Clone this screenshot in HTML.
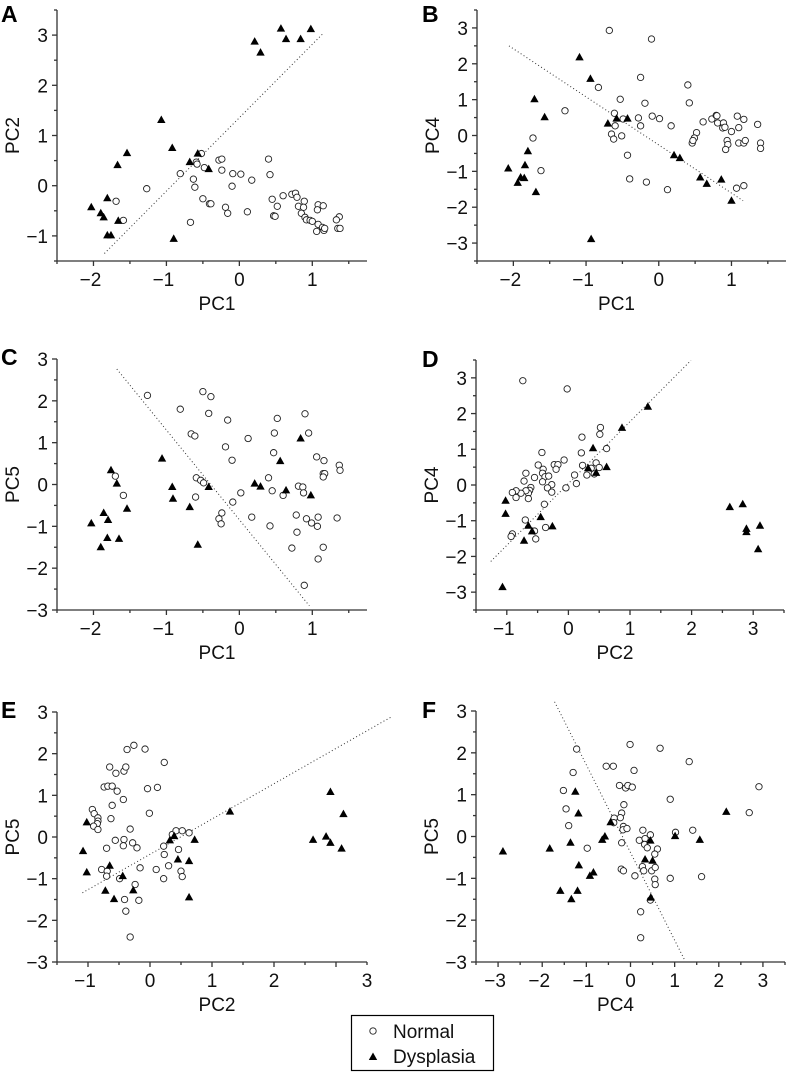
<!DOCTYPE html>
<html><head><meta charset="utf-8"><style>
html,body{margin:0;padding:0;background:#fff;}
svg{display:block;font-family:"Liberation Sans",Arial,sans-serif;}
</style></head><body>
<svg id="fig" width="790" height="1074" viewBox="0 0 790 1074"></svg>
<script>
// ---- Data ----
const aNormal=[[-0.52,0.64],[-0.59,0.47],[-0.58,0.43],[-0.48,0.36],[-0.81,0.24],[-0.63,0.13],[-0.61,-0.03],[-1.27,-0.06],[-1.69,-0.31],[-1.59,-0.69],[-0.67,-0.73],[-0.50,-0.26],[-0.41,-0.36],[-0.39,-0.36],[-0.28,0.51],[-0.24,0.53],[-0.24,0.31],[-0.09,0.24],[0.02,0.23],[-0.10,-0.01],[-0.19,-0.43],[-0.16,-0.55],[0.17,0.11],[0.11,-0.52],[0.40,0.53],[0.42,0.22],[0.45,-0.27],[0.52,-0.41],[0.47,-0.60],[0.49,-0.61],[0.60,-0.20],[0.72,-0.17],[0.77,-0.15],[0.79,-0.23],[0.81,-0.41],[0.89,-0.31],[0.88,-0.43],[0.85,-0.55],[0.90,-0.63],[0.92,-0.68],[0.97,-0.69],[1.00,-0.71],[1.08,-0.38],[1.07,-0.48],[1.15,-0.40],[1.08,-0.77],[1.06,-0.91],[1.14,-0.83],[1.16,-0.89],[1.17,-0.85],[1.37,-0.62],[1.33,-0.68],[1.35,-0.85],[1.38,-0.85]];
const aDysplasia=[[0.57,3.13],[0.98,3.12],[0.64,2.92],[0.84,2.92],[0.21,2.87],[0.29,2.65],[-1.07,1.31],[-0.92,0.75],[-1.54,0.65],[-0.57,0.64],[-1.67,0.41],[-0.68,0.47],[-0.42,0.33],[-2.03,-0.43],[-1.81,-0.25],[-1.90,-0.55],[-1.86,-0.63],[-1.66,-0.70],[-1.81,-0.99],[-1.76,-0.99],[-0.90,-1.06]];
const aLine=[[-1.85,-1.35],[1.16,3.05]];

const bNormal=[[-0.68,2.93],[-0.10,2.69],[-0.25,1.62],[-0.83,1.34],[-0.53,1.01],[-0.19,0.90],[-1.29,0.69],[-0.61,0.62],[-0.60,0.27],[-0.49,0.46],[-0.28,0.49],[-0.09,0.54],[0.01,0.47],[-0.25,0.27],[0.17,0.27],[-0.65,0.04],[-0.62,-0.10],[-0.51,-0.01],[-1.73,-0.07],[-1.62,-0.98],[-0.43,-0.55],[-0.40,-1.21],[-0.17,-1.30],[0.12,-1.51],[0.40,1.41],[0.42,0.91],[0.52,0.08],[0.49,-0.07],[0.46,-0.21],[0.47,-0.14],[0.61,0.38],[0.73,0.46],[0.79,0.56],[0.80,0.55],[0.81,0.35],[0.89,0.35],[0.88,0.21],[0.91,0.23],[1.00,0.11],[0.94,-0.14],[0.95,-0.25],[0.92,-0.39],[1.08,0.54],[1.10,0.22],[1.10,-0.21],[1.17,0.45],[1.17,-0.21],[1.19,-0.14],[1.36,0.31],[1.40,-0.21],[1.40,-0.36],[1.07,-1.47],[1.17,-1.40]];
const bDysplasia=[[-1.09,2.18],[-0.94,1.58],[-1.71,1.01],[-1.57,0.51],[-0.70,0.33],[-0.58,0.47],[-0.43,0.47],[-2.07,-0.92],[-1.80,-0.44],[-1.84,-0.83],[-1.90,-1.17],[-1.85,-1.19],[-1.94,-1.32],[-1.69,-1.58],[-0.93,-2.89],[0.21,-0.55],[0.29,-0.63],[0.57,-1.17],[0.66,-1.35],[0.86,-1.23],[1.00,-1.82]];
const bLine=[[-2.06,2.50],[1.16,-1.82]];

const cNormal=[[-1.70,0.20],[-1.59,-0.26],[-1.26,2.13],[-0.81,1.80],[-0.66,1.21],[-0.61,1.16],[-0.50,2.22],[-0.39,2.10],[-0.42,1.70],[-0.16,1.54],[-0.19,0.90],[-0.10,0.58],[-0.59,0.16],[-0.53,0.10],[-0.49,0.04],[-0.60,-0.30],[-0.09,-0.42],[-0.24,-0.68],[-0.28,-0.82],[-0.25,-0.94],[0.02,-0.20],[0.12,1.10],[0.17,-0.78],[0.52,1.58],[0.48,1.23],[0.47,0.76],[0.40,0.16],[0.45,-0.15],[0.60,-0.26],[0.42,-0.99],[0.90,1.69],[0.95,1.23],[0.81,-0.04],[0.87,-0.06],[0.88,-0.20],[0.78,-0.73],[0.92,-0.82],[0.99,-0.92],[0.79,-1.14],[0.72,-1.52],[0.89,-2.41],[1.06,0.66],[1.16,0.57],[1.15,0.26],[1.17,0.26],[1.15,0.18],[1.08,-0.78],[1.07,-1.00],[1.15,-1.50],[1.08,-1.78],[1.37,0.46],[1.38,0.34],[1.34,-0.80]];
const cDysplasia=[[-1.76,0.34],[-1.68,0.02],[-2.03,-0.93],[-1.86,-0.68],[-1.80,-0.85],[-1.81,-1.28],[-1.90,-1.50],[-1.65,-1.30],[-1.54,-0.58],[-1.06,0.62],[-0.92,-0.06],[-0.91,-0.34],[-0.68,-0.54],[-0.57,-1.44],[-0.42,-0.06],[0.21,0.02],[0.29,-0.05],[0.56,0.56],[0.64,-0.14],[0.84,1.10],[0.98,-0.26]];
const cLine=[[-1.68,2.76],[0.96,-2.90]];

const dNormal=[[-0.74,2.92],[-0.02,2.69],[0.52,1.61],[0.51,1.42],[0.22,1.34],[0.62,1.02],[0.21,0.90],[-0.43,0.91],[-0.07,0.70],[-0.49,0.56],[-0.41,0.44],[-0.23,0.57],[-0.17,0.57],[-0.20,0.44],[-0.42,0.33],[-0.38,0.23],[-0.32,0.25],[-0.55,0.21],[-0.69,0.33],[-0.72,0.11],[-0.42,0.09],[-0.27,0.01],[-0.34,-0.08],[-0.27,-0.20],[-0.61,-0.07],[-0.63,-0.15],[-0.65,-0.23],[-0.69,-0.16],[-0.77,-0.23],[-0.85,-0.16],[-0.91,-0.21],[-0.85,-0.35],[-0.65,-0.38],[-0.39,-0.54],[-0.04,-0.08],[0.13,0.04],[0.10,0.28],[0.23,0.55],[0.30,0.28],[0.37,0.47],[0.45,0.62],[0.42,0.31],[0.50,0.49],[-0.70,-0.98],[-0.91,-1.37],[-0.93,-1.44],[-0.55,-1.29],[-0.53,-1.51],[-0.37,-1.19]];
const dDysplasia=[[-1.07,-2.86],[-1.02,-0.44],[-1.02,-0.81],[-0.72,-1.56],[-0.65,-1.14],[-0.59,-1.30],[-0.45,-0.90],[-0.26,-1.16],[0.32,0.47],[0.40,1.03],[0.45,0.34],[0.62,0.50],[0.87,1.60],[1.29,2.19],[2.62,-0.62],[2.83,-0.54],[2.89,-1.23],[2.89,-1.32],[3.11,-1.14],[3.08,-1.80]];
const dLine=[[-1.26,-2.14],[1.99,3.49]];

const eNormal=[[-0.93,0.66],[-0.90,0.56],[-0.84,0.46],[-0.84,0.38],[-0.85,0.32],[-0.91,0.26],[-0.84,0.18],[-0.74,1.20],[-0.68,1.22],[-0.61,1.22],[-0.53,1.10],[-0.65,1.68],[-0.55,1.53],[-0.42,1.58],[-0.39,1.68],[-0.37,2.10],[-0.26,2.20],[-0.08,2.11],[0.23,1.79],[-0.04,1.16],[0.12,1.19],[-0.43,0.90],[-0.61,0.76],[-0.63,0.44],[-0.01,0.57],[-0.32,0.19],[-0.56,-0.08],[-0.42,-0.06],[-0.43,-0.21],[-0.28,-0.14],[-0.21,-0.26],[-0.70,-0.27],[-0.78,-0.78],[-0.69,-0.82],[-0.70,-0.94],[-0.49,-1.00],[-0.16,-0.74],[-0.24,-1.14],[-0.41,-1.50],[-0.18,-1.52],[-0.39,-1.78],[-0.32,-2.40],[0.10,-0.78],[0.22,-1.00],[0.30,-0.69],[0.22,-0.22],[0.23,-0.42],[0.36,0.06],[0.42,0.15],[0.52,0.15],[0.63,0.10],[0.46,-0.30],[0.50,-0.82],[0.52,-0.95]];
const eDysplasia=[[-1.02,0.35],[-1.08,-0.34],[-1.02,-0.85],[-0.65,-0.69],[-0.72,-1.29],[-0.58,-1.49],[-0.44,-0.94],[-0.27,-1.28],[0.32,-0.08],[0.39,0.02],[0.45,-0.54],[0.63,-0.58],[0.63,-1.45],[0.72,-0.07],[1.29,0.61],[2.63,-0.07],[2.84,0.01],[2.91,-0.14],[3.09,-0.28],[2.91,1.08],[3.12,0.55]];
const eLine=[[-1.09,-1.34],[3.89,2.88]];

const fNormal=[[-1.22,2.09],[-1.30,1.53],[-1.52,1.10],[-1.46,0.66],[-1.40,0.26],[-0.98,-0.28],[-0.55,1.68],[-0.39,1.68],[-0.01,2.20],[0.08,1.58],[0.67,2.11],[1.33,1.79],[-0.25,1.22],[-0.11,1.16],[-0.06,1.22],[0.04,1.18],[-0.15,0.76],[-0.20,0.56],[-0.23,0.45],[-0.37,0.44],[-0.38,0.33],[-0.16,0.24],[-0.17,0.16],[-0.08,0.19],[-0.20,-0.15],[-0.21,-0.78],[-0.16,-0.82],[0.28,0.15],[0.20,-0.09],[0.33,-0.05],[0.45,0.04],[0.32,-0.19],[0.38,-0.27],[0.61,-0.30],[0.55,-0.42],[0.27,-0.72],[0.30,-0.82],[0.48,-0.82],[0.56,-0.74],[0.55,-1.02],[0.56,-1.15],[0.10,-0.94],[0.45,-1.52],[0.23,-1.80],[0.23,-2.42],[0.90,0.89],[1.02,0.10],[1.41,0.15],[0.90,-1.00],[1.61,-0.96],[2.69,0.57],[2.91,1.19]];
const fDysplasia=[[-2.89,-0.36],[-1.83,-0.29],[-1.36,-0.15],[-1.25,1.07],[-1.18,0.55],[-1.17,-0.69],[-1.59,-1.30],[-1.34,-1.50],[-1.20,-1.30],[-0.92,-0.94],[-0.84,-0.86],[-0.64,-0.08],[-0.58,0.00],[-0.45,0.34],[0.45,-0.10],[0.33,-0.55],[0.50,-0.58],[0.46,-1.46],[1.01,0.01],[1.57,-0.08],[2.17,0.59]];
const fLine=[[-1.72,3.22],[1.23,-2.96]];

// tick label values
const ticksPC1=[-2,-1,0,1];
const ticks3to3=[-3,-2,-1,0,1,2,3];
const ticksPC2=[-1,0,1,2,3];
const ticksPC2E=[-1,0,1,2,3];
const ticksPC2EPos=[-1,0,1,2,3.5];
const ticksYA=[-1,0,1,2,3];

const NS='http://www.w3.org/2000/svg';
const svg=document.getElementById('fig');
function mk(tag,attrs,parent){const e=document.createElementNS(NS,tag);for(const k in attrs)e.setAttribute(k,attrs[k]);(parent||svg).appendChild(e);return e;}
function fmt(v){return v<0?'\u2212'+Math.abs(v):String(v);}

function panel(p){
  const g=mk('g',{});
  
  
  const sx=v=>p.L+(v-p.xd[0])/(p.xd[1]-p.xd[0])*(p.R-p.L);
  const sy=v=>p.B-(v-p.yd[0])/(p.yd[1]-p.yd[0])*(p.B-p.T);
  // axes
  const ax=mk('g',{stroke:'#333','stroke-width':1.3,fill:'none'},g);
  
  
  mk('line',{x1:p.L,y1:p.T,x2:p.L,y2:p.B},ax);
  mk('line',{x1:p.L,y1:p.B,x2:p.R,y2:p.B},ax);
  // minor/major ticks every 0.5
  for(let v=Math.ceil(p.xd[0]*2)/2; v<=p.xd[1]+1e-6; v+=0.5){
    const major=Math.abs(v-Math.round(v))<1e-6;
    mk('line',{x1:sx(v),y1:p.B,x2:sx(v),y2:p.B+(major?5:3)},ax);
  }
  for(let v=Math.ceil(p.yd[0]*2)/2; v<=p.yd[1]+1e-6; v+=0.5){
    const major=Math.abs(v-Math.round(v))<1e-6;
    mk('line',{x1:p.L,y1:sy(v),x2:p.L-(major?5:3),y2:sy(v)},ax);
  }
  // tick labels
  p.xt.forEach((v,i)=>{
    const pos=p.xtPos?p.xtPos[i]:v;
    const t=mk('text',{x:sx(pos)-(v<0?3:0),y:p.B+25,'font-size':19,'text-anchor':'middle',fill:'#111'},g);
    
    
    t.textContent=fmt(v);
  });
  p.yt.forEach(v=>{
    const t=mk('text',{x:p.L-9,y:sy(v)+7,'font-size':19,'text-anchor':'end',fill:'#111'},g);
    
    
    t.textContent=fmt(v);
  });
  // titles
  const xt=mk('text',{x:(p.L+p.R)/2+p.xtOff,y:p.B+49,'font-size':19,'text-anchor':'middle',fill:'#111'},g);
  
  
  xt.textContent=p.xl;
  const ycy=(p.T+p.B)/2;
  const yt=mk('text',{x:0,y:0,'font-size':19,'text-anchor':'middle',fill:'#111',transform:`translate(${p.L-38},${ycy}) rotate(-90)`},g);
  
  
  yt.textContent=p.yl;
  const lt=mk('text',{x:p.lx,y:p.ly,'font-size':23,'font-weight':'bold',fill:'#000'},g);
  
  
  lt.textContent=p.id;
  // dotted line
  const ln=mk('line',{x1:sx(p.line[0][0]),y1:sy(p.line[0][1]),x2:sx(p.line[1][0]),y2:sy(p.line[1][1]),stroke:'#333','stroke-width':1,'stroke-dasharray':'1 2.5'},g);
  
  
  // normal points
  p.normal.forEach(d=>{
    const c=mk('circle',{cx:sx(d[0]),cy:sy(d[1]),r:3.2,fill:'#fff',stroke:'#222','stroke-width':0.9},g);
    
    
  });
  p.dys.forEach(d=>{
    const x=sx(d[0]),y=sy(d[1]);
    const t=mk('polygon',{points:`${x},${y-4.5} ${x-4.2},${y+3} ${x+4.2},${y+3}`,fill:'#000'},g);
    
    
  });
}

panel({id:'A',L:57,R:367,T:10,B:261,xd:[-2.5,1.75],yd:[-1.5,3.5],xt:ticksPC1,yt:ticksYA,xl:'PC1',yl:'PC2',xtOff:5,lx:1,ly:22,line:aLine,normal:aNormal,dys:aDysplasia});
panel({id:'B',L:477,R:786,T:10,B:261,xd:[-2.5,1.75],yd:[-3.5,3.5],xt:ticksPC1,yt:ticks3to3,xl:'PC1',yl:'PC4',xtOff:-15,lx:422,ly:22,line:bLine,normal:bNormal,dys:bDysplasia});
panel({id:'C',L:57,R:367,T:359,B:610,xd:[-2.5,1.75],yd:[-3,3],xt:ticksPC1,yt:ticks3to3,xl:'PC1',yl:'PC5',xtOff:5,lx:1,ly:365,line:cLine,normal:cNormal,dys:cDysplasia});
panel({id:'D',L:476,R:784,T:360,B:610,xd:[-1.5,3.5],yd:[-3.5,3.5],xt:ticksPC2,yt:ticks3to3,xl:'PC2',yl:'PC4',xtOff:-15,lx:422,ly:367,line:dLine,normal:dNormal,dys:dDysplasia});
panel({id:'E',L:57,R:367,T:712,B:962,xd:[-1.5,3.5],yd:[-3,3],xt:ticksPC2E,xtPos:ticksPC2EPos,yt:ticks3to3,xl:'PC2',yl:'PC5',xtOff:5,lx:1,ly:718,line:eLine,normal:eNormal,dys:eDysplasia});
panel({id:'F',L:476,R:785,T:711,B:962,xd:[-3.5,3.5],yd:[-3,3],xt:ticks3to3,yt:ticks3to3,xl:'PC4',yl:'PC5',xtOff:-15,lx:422,ly:718,line:fLine,normal:fNormal,dys:fDysplasia});

// legend
const lg=mk('g',{});


mk('rect',{x:351.5,y:1015.5,width:142,height:55,fill:'#fff',stroke:'#000','stroke-width':1.2},lg);
const lc=mk('circle',{cx:373,cy:1031,r:3.2,fill:'#fff',stroke:'#222','stroke-width':0.9},lg);


const lt1=mk('text',{x:393,y:1038,'font-size':19,fill:'#111'},lg);


lt1.textContent='Normal';
const lp=mk('polygon',{points:'373,1052.5 368.8,1060 377.2,1060',fill:'#000'},lg);


const lt2=mk('text',{x:393,y:1063,'font-size':19,fill:'#111'},lg);


lt2.textContent='Dysplasia';
</script>
</body></html>
